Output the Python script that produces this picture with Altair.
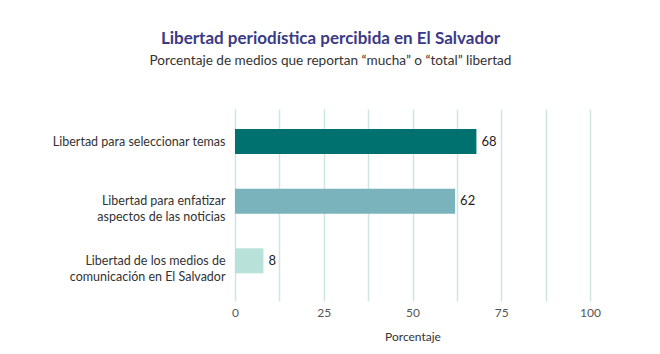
import altair as alt
import pandas as pd

categorias = [
    "Libertad para seleccionar temas",
    "Libertad para enfatizar|aspectos de las noticias",
    "Libertad de los medios de|comunicación en El Salvador",
]
valores = [68, 62, 8]
colores = ["#00716f", "#7bb3bd", "#b8e1da"]
grid_vals = [0, 12.5, 25, 37.5, 50, 62.5, 75, 87.5, 100]

df = pd.DataFrame({"cat": categorias, "val": valores})

FONT = "Lato"

base = alt.Chart(df).encode(
    y=alt.Y(
        "cat:N",
        sort=categorias,
        scale=alt.Scale(paddingInner=0.58, paddingOuter=0.4, align=0.42),
        axis=alt.Axis(
            title=None,
            labelExpr="split(datum.label, '|')",
            labelFont=FONT,
            labelFontSize=12.5,
            labelColor="#333333",
            labelPadding=10,
            labelLineHeight=16,
            ticks=False,
            domain=False,
            grid=False,
            labelLimit=300,
        ),
    ),
)

bars = base.mark_bar().encode(
    x=alt.X(
        "val:Q",
        scale=alt.Scale(domain=[0, 100], nice=False),
        axis=alt.Axis(
            values=grid_vals,
            labelExpr="datum.value % 25 == 0 ? datum.label : ''",
            labelFlush=False,
            title="Porcentaje",
            titleFont=FONT,
            titleFontSize=12,
            titleFontWeight="normal",
            titleColor="#333333",
            titlePadding=13,
            labelFont=FONT,
            labelFontSize=12,
            labelColor="#555555",
            labelPadding=6,
            ticks=False,
            domain=False,
            grid=True,
            gridColor="#cde5e5",
            gridWidth=1.5,
        ),
    ),
    color=alt.Color("cat:N", sort=categorias, scale=alt.Scale(domain=categorias, range=colores), legend=None),
)

labels = base.mark_text(align="left", dx=5, font=FONT, fontSize=13, color="#222222").encode(
    x="val:Q",
    text="val:Q",
)

chart = (
    alt.layer(bars, labels)
    .properties(
        width=355,
        height=192,
        autosize=alt.AutoSizeParams(type="none"),
        padding={"left": 235, "top": 109, "right": 70, "bottom": 53},
        title=alt.TitleParams(
            text="Libertad periodística percibida en El Salvador",
            subtitle="Porcentaje de medios que reportan “mucha” o “total” libertad",
            anchor="middle",
            dx=-82,
            offset=40,
            font=FONT,
            fontSize=17,
            fontWeight="bold",
            color="#3b3a86",
            subtitleFont=FONT,
            subtitleFontSize=13.6,
            subtitleColor="#333333",
            subtitlePadding=6,
        ),
    )
    .configure_view(stroke="transparent", strokeWidth=0)
)

chart.save("out.html", embed_options={"renderer": "svg", "actions": False})
